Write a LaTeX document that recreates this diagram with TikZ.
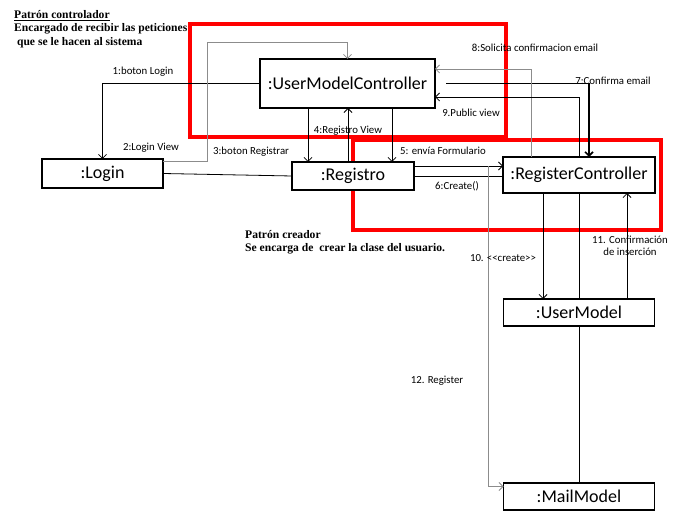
\documentclass[tikz,border=0pt]{standalone}
\usepackage{fontspec}
\setmainfont{Carlito}
\newfontfamily\notefont{Liberation Serif}
\usetikzlibrary{arrows.meta,positioning}

\begin{document}
\begin{tikzpicture}[->,>={Straight Barb[length=4pt,width=8pt]},x=1pt,y=1pt,
  obj/.style={draw,fill=white,line width=1.6pt,outer sep=0pt,inner sep=0pt,minimum height=27pt,font=\fontsize{18}{20}\selectfont},
  zone/.style={draw=red,line width=4pt,-},
  msg/.style={font=\fontsize{10.8}{12.5}\selectfont,inner sep=1pt},
  note/.style={font=\notefont\bfseries\fontsize{11.6}{13.5}\selectfont,align=left,inner sep=0pt},
  link/.style={line width=0.8pt},
  faint/.style={link,draw=black!45}]
  \useasboundingbox (0,0) rectangle (683,514);
  % patrones
  \draw[zone] (190,490) rectangle (506,377);
  \draw[zone] (353,374) rectangle (661,284);
  \node[note,anchor=north west] (ctl) at (14,504) {\underline{Patrón controlador}\\Encargado de recibir las peticiones\\\ que se le hacen al sistema};
  \node[note,anchor=north west] (cre) at (245,284) {Patrón creador\\Se encarga de\ \ crear la clase del usuario.};
  % objetos
  \node[obj,minimum width=175pt,minimum height=49pt] (umc) at (347.5,430.5) {:UserModelController};
  \node[obj,minimum width=121pt,minimum height=29pt] (login) at (102.5,340.5) {:Login};
  \node[obj,minimum width=122pt,minimum height=28pt] (reg) at (353,338) {:Registro};
  \node[obj,minimum width=152pt,minimum height=36pt] (rc) at (579,339) {:RegisterController};
  \node[obj,minimum width=151pt] (um) [below=106pt of rc] {:UserModel};
  \node[obj,minimum width=151pt] (mm) [below=157pt of um] {:MailModel};
  \coordinate (fork) at (488,348);
  % mensajes
  \draw[link] (umc.west) -| (login.north);
  \draw[faint] ([yshift=-2pt]login.north east) -| (207,472) -| (umc.north);
  \draw[link,-] (login.east) -- (reg.west);
  \draw[link] (348,0 |- reg.north) -- (348,0 |- umc.south);
  \draw[link] (308,0 |- umc.south) -- (308,0 |- reg.north);
  \draw[link] (392,0 |- umc.south) -- (392,0 |- reg.north);
  \draw[link] (reg.east |- fork) -- (rc.west |- fork);
  \draw[link,-] (reg.east) -- (rc.west |- reg.east);
  \draw[line width=1.6pt] ([xshift=11pt]umc.east) -| (589,0 |- rc.north);
  \draw[faint] (531,0 |- rc.north) |- (umc.east |- 0,445);
  \draw[link] (rc.north) |- (umc.east |- 0,417);
  \draw[link] (543,0 |- rc.south) -- (543,0 |- um.north);
  \draw[link] (627,0 |- um.north) -- (627,0 |- rc.south);
  \draw[link,-] (rc.south) -- (um.north);
  \draw[link,-] (um.south) -- (mm.north);
  \draw[faint] (fork) |- ([yshift=10pt]mm.west);
  % etiquetas
  \node[msg] (t1) at (143,442) {1:boton Login};
  \node[msg] (t2) at (151,366) {2:Login View};
  \node[msg] (t3) at (251,362) {3:boton Registrar};
  \node[msg] (t4) at (348,383) {4:Registro View};
  \node[msg] (t5) at (443,363) {5: envía Formulario};
  \node[msg] (t6) at (457,328) {6:Create()};
  \node[msg] (t7) at (613,433) {7:Confirma email};
  \node[msg] (t8) at (535,466) {8:Solicita confirmacion email};
  \node[msg] (t9) at (471,401) {9.Public view};
  \node[msg] (t10) at (503,256) {10. <\kern0pt<create>\kern0pt>};
  \node[msg,align=center] (t11) at (630,268) {11. Confirmación\\de inserción};
  \node[msg] (t12) at (437,133) {12. Register};
\end{tikzpicture}
\end{document}
